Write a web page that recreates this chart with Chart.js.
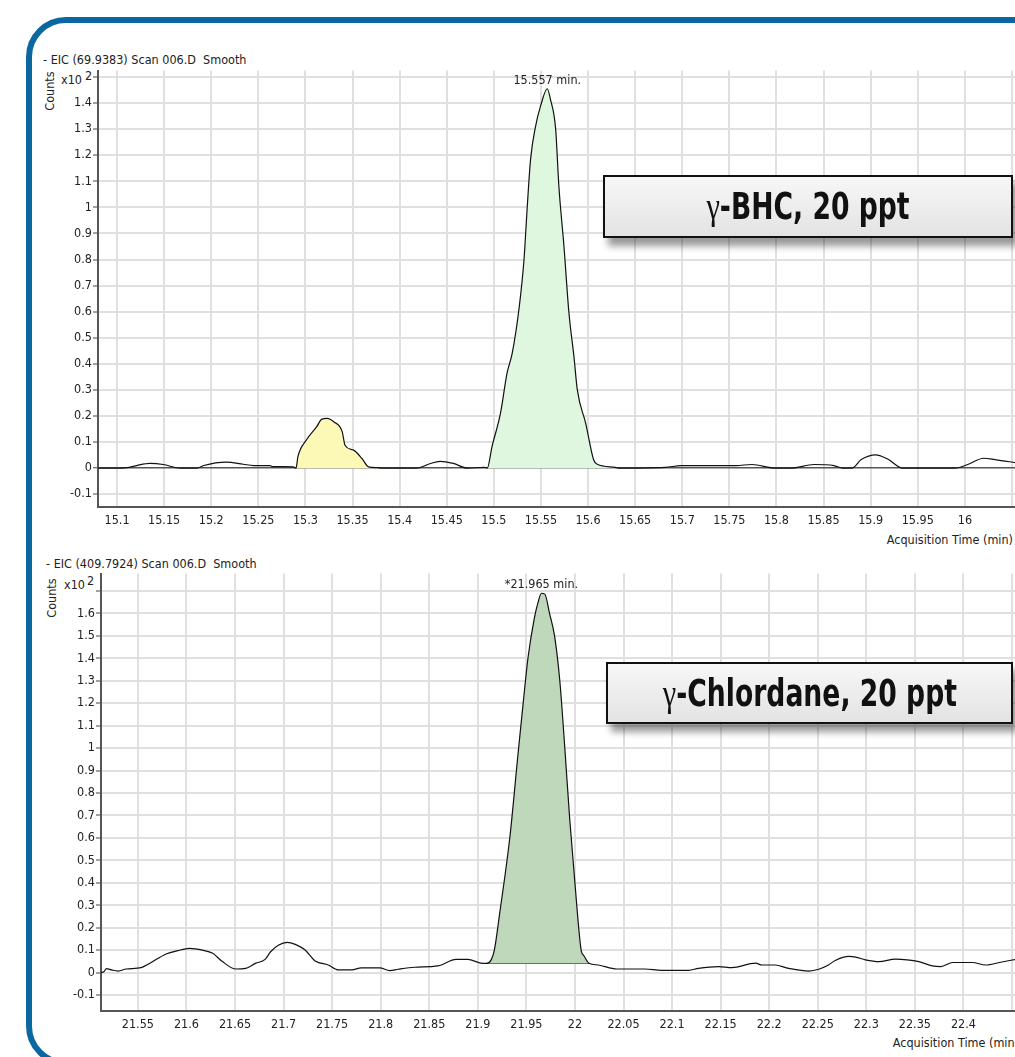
<!DOCTYPE html>
<html>
<head>
<meta charset="utf-8">
<script src="https://cdn.jsdelivr.net/npm/chart.js@4.4.1/dist/chart.umd.min.js"></script>
<style>
  body { margin: 0; width: 1015px; height: 1057px; overflow: hidden; background: #fff; position: relative;
         font-family: "DejaVu Sans Condensed", "Liberation Sans Narrow", sans-serif; color: #222; }
  .frame { position: absolute; left: 26px; top: 17px; width: 1100px; height: 1049px; box-sizing: border-box;
           border: 6px solid #0b679f; border-radius: 40px; }
  .txt { position: absolute; font-size: 12.5px; line-height: 1; white-space: nowrap; }
  .counts { position: absolute; font-size: 12.5px; line-height: 1; white-space: nowrap; transform: translate(-50%, -50%) rotate(-90deg); }
  canvas { position: absolute; }
  .label-box { position: absolute; box-sizing: border-box; border: 2px solid #111;
               background: linear-gradient(to bottom, #f7f7f7, #e3e3e3);
               box-shadow: 5px 8px 7px rgba(0, 0, 0, 0.4);
               text-align: center; white-space: nowrap; overflow: visible; }
  .label-box .t { display: inline-block; transform: scaleX(0.8); font-weight: bold; font-size: 37px; color: #111; }
  .label-box .g { font-family: "Liberation Serif", "DejaVu Serif", serif; font-weight: normal; font-size: 38px; }
</style>
</head>
<body>
<div class="frame"></div>

<div class="txt" style="left:43px; top:54px;">- EIC (69.9383) Scan 006.D&nbsp; Smooth</div>
<div class="counts" style="left:50px; top:91px;">Counts</div>
<div class="txt" style="left:61px; top:74px;">x10</div>
<div class="txt" style="left:85px; top:70px;">2</div>
<div class="txt" style="right:2px; top:534px;">Acquisition Time (min)</div>
<canvas id="bhc" style="left:30px; top:62px;" width="988" height="468"></canvas>

<div class="txt" style="left:46px; top:558px;">- EIC (409.7924) Scan 006.D&nbsp; Smooth</div>
<div class="counts" style="left:52px; top:598px;">Counts</div>
<div class="txt" style="left:64px; top:579px;">x10</div>
<div class="txt" style="left:87px; top:575px;">2</div>
<div class="txt" style="right:-4px; top:1037px;">Acquisition Time (min)</div>
<canvas id="chl" style="left:30px; top:565px;" width="988" height="469"></canvas>

<div class="label-box" style="left:603px; top:175px; width:410px; height:63px; line-height:59px;"><span class="t"><span class="g">γ</span>-BHC, 20 ppt</span></div>
<div class="label-box" style="left:606px; top:662px; width:407px; height:62px; line-height:58px;"><span class="t"><span class="g">γ</span>-Chlordane, 20 ppt</span></div>

<script>
// ---- gamma-BHC, EIC 69.9383 (time in min, counts x10^2) ----
const bhcTime = [15.080, 15.105, 15.113, 15.121, 15.135, 15.149, 15.167, 15.185, 15.192, 15.216,
  15.234, 15.245, 15.262, 15.265, 15.287, 15.290, 15.292, 15.301, 15.312, 15.317,
  15.323, 15.330, 15.339, 15.342, 15.351, 15.360, 15.367, 15.377, 15.380, 15.418,
  15.432, 15.443, 15.457, 15.472, 15.490, 15.493, 15.498, 15.507, 15.514, 15.5195,
  15.527, 15.532, 15.5355, 15.539, 15.544, 15.5497, 15.5567, 15.560, 15.5656, 15.569,
  15.5744, 15.5797, 15.585, 15.5886, 15.5975, 15.606, 15.6098, 15.629, 15.632, 15.682,
  15.699, 15.757, 15.774, 15.799, 15.815, 15.840, 15.861, 15.870, 15.880, 15.890,
  15.905, 15.9175, 15.934, 15.990, 16.003, 16.020, 16.032, 16.055];
const bhcCounts = [0, 0, 0.003, 0.010, 0.018, 0.014, 0, 0, 0.010, 0.023,
  0.015, 0.010, 0.010, 0.006, 0.005, 0, 0.044, 0.108, 0.159, 0.187,
  0.191, 0.178, 0.140, 0.088, 0.069, 0.037, 0.005, 0.002, 0, 0,
  0.017, 0.026, 0.018, 0, 0.003, 0, 0.082, 0.210, 0.364, 0.441,
  0.620, 0.800, 1.005, 1.185, 1.306, 1.390, 1.455, 1.415, 1.300, 1.082,
  0.851, 0.595, 0.428, 0.300, 0.172, 0.031, 0.015, 0.003, 0, 0.003,
  0.010, 0.010, 0.014, 0, 0, 0.014, 0.010, 0, 0, 0.033,
  0.051, 0.036, 0, 0, 0.014, 0.038, 0.033, 0.020];
const bhcPeakFrom = [15.290, 15.493];
const bhcPeakTo = [15.377, 15.629];
const bhcPeakBase = [0, 0];
const bhcPeakColors = ['#fcf9b6', '#dff7df'];
const bhcPeakLabel = '15.557 min.';
const bhcTimeTicks = [15.1, 15.15, 15.2, 15.25, 15.3, 15.35, 15.4, 15.45, 15.5, 15.55,
  15.6, 15.65, 15.7, 15.75, 15.8, 15.85, 15.9, 15.95, 16, 16.05];
const bhcTimeLabels = ['15.1', '15.15', '15.2', '15.25', '15.3', '15.35', '15.4', '15.45', '15.5', '15.55',
  '15.6', '15.65', '15.7', '15.75', '15.8', '15.85', '15.9', '15.95', '16', ''];
const bhcCountTicks = [-0.1, 0, 0.1, 0.2, 0.3, 0.4, 0.5, 0.6, 0.7, 0.8, 0.9, 1, 1.1, 1.2, 1.3, 1.4, 1.5];
const bhcCountLabels = ['-0.1', '0', '0.1', '0.2', '0.3', '0.4', '0.5', '0.6', '0.7', '0.8', '0.9', '1',
  '1.1', '1.2', '1.3', '1.4', ''];

// ---- gamma-Chlordane, EIC 409.7924 ----
const chlTime = [21.512, 21.515, 21.5176, 21.523, 21.5295, 21.538, 21.5534, 21.562, 21.579, 21.591,
  21.603, 21.6166, 21.627, 21.637, 21.651, 21.661, 21.671, 21.681, 21.6866, 21.695,
  21.7036, 21.712, 21.7224, 21.7326, 21.746, 21.7565, 21.770, 21.780, 21.799, 21.8094,
  21.818, 21.835, 21.859, 21.8776, 21.8896, 21.905, 21.909, 21.914, 21.917, 21.9225,
  21.933, 21.9414, 21.9466, 21.9517, 21.958, 21.962, 21.9655, 21.969, 21.974, 21.979,
  21.9844, 21.9895, 21.9947, 22.000, 22.0067, 22.0086, 22.0144, 22.024, 22.043, 22.072,
  22.089, 22.117, 22.127, 22.148, 22.1616, 22.186, 22.1926, 22.206, 22.220, 22.241,
  22.251, 22.261, 22.268, 22.282, 22.289, 22.299, 22.313, 22.330, 22.342, 22.354,
  22.368, 22.3766, 22.389, 22.409, 22.423, 22.437, 22.455];
const chlCounts = [0, 0.004, 0.018, 0.012, 0.007, 0.016, 0.022, 0.041, 0.083, 0.098,
  0.108, 0.100, 0.086, 0.049, 0.016, 0.019, 0.041, 0.059, 0.093, 0.123,
  0.135, 0.126, 0.100, 0.052, 0.034, 0.012, 0.012, 0.021, 0.021, 0.009,
  0.015, 0.024, 0.030, 0.059, 0.059, 0.041, 0.041, 0.059, 0.100, 0.264,
  0.604, 0.975, 1.197, 1.404, 1.575, 1.649, 1.690, 1.686, 1.597, 1.500,
  1.300, 1.004, 0.679, 0.397, 0.093, 0.079, 0.042, 0.034, 0.016, 0.016,
  0.010, 0.010, 0.019, 0.027, 0.022, 0.042, 0.034, 0.034, 0.019, 0.007,
  0.015, 0.034, 0.054, 0.072, 0.069, 0.057, 0.049, 0.060, 0.057, 0.049,
  0.030, 0.027, 0.045, 0.045, 0.034, 0.045, 0.060];
const chlPeakFrom = [21.909];
const chlPeakTo = [22.0144];
const chlPeakBase = [0.041];
const chlPeakColors = ['#bfd8bb'];
const chlPeakLabel = '*21.965 min.';
const chlTimeTicks = [21.55, 21.6, 21.65, 21.7, 21.75, 21.8, 21.85, 21.9, 21.95, 22,
  22.05, 22.1, 22.15, 22.2, 22.25, 22.3, 22.35, 22.4, 22.45];
const chlTimeLabels = ['21.55', '21.6', '21.65', '21.7', '21.75', '21.8', '21.85', '21.9', '21.95', '22',
  '22.05', '22.1', '22.15', '22.2', '22.25', '22.3', '22.35', '22.4', ''];
const chlCountTicks = [-0.1, 0, 0.1, 0.2, 0.3, 0.4, 0.5, 0.6, 0.7, 0.8, 0.9, 1, 1.1, 1.2, 1.3, 1.4, 1.5, 1.6, 1.7];
const chlCountLabels = ['-0.1', '0', '0.1', '0.2', '0.3', '0.4', '0.5', '0.6', '0.7', '0.8', '0.9', '1',
  '1.1', '1.2', '1.3', '1.4', '1.5', '1.6', ''];

const NARROW = '"DejaVu Sans Condensed", "Liberation Sans Narrow", sans-serif';
Chart.defaults.font.family = NARROW;
Chart.defaults.font.size = 12.5;
Chart.defaults.color = '#222';

function points(time, counts, from, to) {
  const pts = [];
  time.forEach((t, i) => {
    if (t >= from && t <= to) pts.push({ x: t, y: counts[i] });
  });
  return pts;
}

// writes the retention time over the apex of the main peak
function peakLabelPlugin(text, time, counts) {
  let top = 0;
  counts.forEach((c, i) => { if (c > counts[top]) top = i; });
  return {
    id: 'peakLabel',
    afterDatasetsDraw(chart) {
      const { ctx, scales } = chart;
      ctx.save();
      ctx.font = '12.5px ' + NARROW;
      ctx.fillStyle = '#222';
      ctx.textAlign = 'center';
      ctx.textBaseline = 'alphabetic';
      ctx.fillText(text, scales.x.getPixelForValue(time[top]), scales.y.getPixelForValue(counts[top]) - 5);
      ctx.restore();
    }
  };
}

function buildChart(id, d) {
  const datasets = [{
    data: points(d.time, d.counts, -Infinity, Infinity),
    borderColor: '#111', borderWidth: 1.2, pointRadius: 0,
    cubicInterpolationMode: 'monotone', fill: false
  }];
  d.peakFrom.forEach((from, k) => {
    datasets.push({
      data: points(d.time, d.counts, from, d.peakTo[k]),
      borderWidth: 0, pointRadius: 0, cubicInterpolationMode: 'monotone',
      backgroundColor: d.peakColors[k], fill: { value: d.peakBase[k] }
    });
    if (d.peakBase[k] !== 0) {
      datasets.push({
        data: [{ x: from, y: d.peakBase[k] }, { x: d.peakTo[k], y: d.peakBase[k] }],
        borderColor: '#111', borderWidth: 1.2, pointRadius: 0, fill: false
      });
    }
  });

  return new Chart(document.getElementById(id), {
    type: 'line',
    data: { datasets },
    plugins: [peakLabelPlugin(d.peakLabel, d.time, d.counts)],
    options: {
      responsive: false,
      animation: false,
      layout: { padding: { top: 8, left: 0, right: 0, bottom: 0 } },
      plugins: { legend: { display: false }, tooltip: { enabled: false } },
      scales: {
        x: {
          type: 'linear', bounds: 'data', min: d.xMin, max: d.xMax,
          afterBuildTicks: s => { s.ticks = d.timeTicks.map(v => ({ value: v })); },
          afterFit: s => { s.height = 23; },
          ticks: { autoSkip: false, maxRotation: 0, padding: 6, callback: (v, i) => d.timeLabels[i] },
          grid: { color: '#e0e0e0', lineWidth: 2, drawTicks: false },
          border: { color: '#555', width: 2 }
        },
        y: {
          type: 'linear', bounds: 'data', min: d.yMin, max: d.yMax,
          afterBuildTicks: s => { s.ticks = d.countTicks.map(v => ({ value: v })); },
          afterFit: s => { s.width = d.yWidth; },
          ticks: { autoSkip: false, padding: 1, callback: (v, i) => d.countLabels[i] },
          grid: {
            color: c => (d.darkZero && c.tick && c.tick.value === 0) ? '#555' : '#e0e0e0',
            lineWidth: c => (d.darkZero && c.tick && c.tick.value === 0) ? 1.5 : 2,
            tickColor: '#444', tickLength: 5, tickWidth: 1
          },
          border: { color: '#555', width: 2 }
        }
      }
    }
  });
}

buildChart('bhc', {
  time: bhcTime, counts: bhcCounts,
  peakFrom: bhcPeakFrom, peakTo: bhcPeakTo, peakBase: bhcPeakBase, peakColors: bhcPeakColors,
  peakLabel: bhcPeakLabel,
  timeTicks: bhcTimeTicks, timeLabels: bhcTimeLabels,
  countTicks: bhcCountTicks, countLabels: bhcCountLabels,
  xMin: 15.0798, xMax: 16.0533, yMin: -0.149, yMax: 1.525, yWidth: 68, darkZero: true
});

buildChart('chl', {
  time: chlTime, counts: chlCounts,
  peakFrom: chlPeakFrom, peakTo: chlPeakTo, peakBase: chlPeakBase, peakColors: chlPeakColors,
  peakLabel: chlPeakLabel,
  timeTicks: chlTimeTicks, timeLabels: chlTimeLabels,
  countTicks: chlCountTicks, countLabels: chlCountLabels,
  xMin: 21.512, xMax: 22.4537, yMin: -0.171, yMax: 1.778, yWidth: 71, darkZero: false
});
</script>
</body>
</html>
